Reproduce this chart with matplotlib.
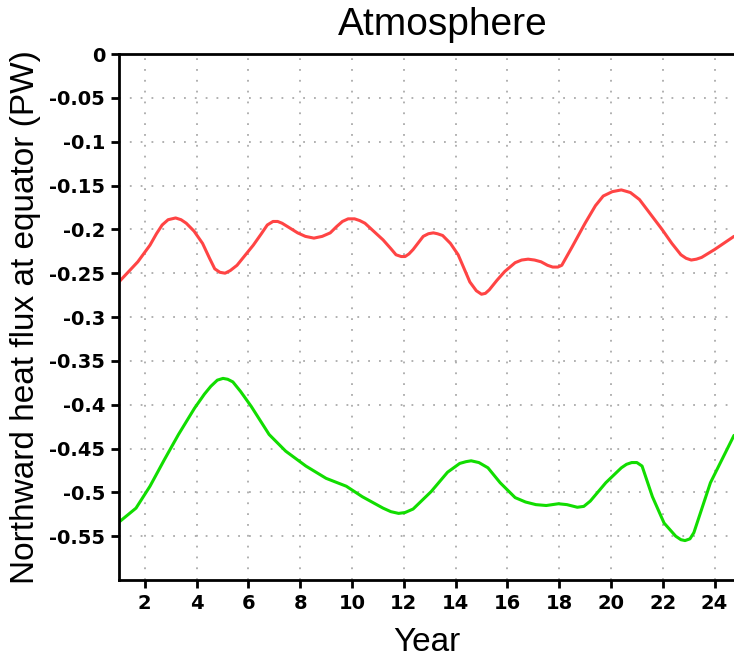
import matplotlib
matplotlib.use('Agg')
import matplotlib.pyplot as plt
import numpy as np

plt.rcParams['font.family'] = ['Liberation Sans', 'DejaVu Sans']

# values (year, PW)
red_x = [1.0, 1.73, 2.2, 2.45, 2.67, 2.9, 3.19, 3.4, 3.6, 3.9, 4.23, 4.5, 4.7, 4.9, 5.1, 5.3,
         5.56, 6.19, 6.5, 6.73, 6.95, 7.13, 7.3, 7.52, 7.9, 8.2, 8.53, 8.85, 9.16, 9.4, 9.63,
         9.85, 10.1, 10.3, 10.5, 11.2, 11.5, 11.7, 11.9, 12.05, 12.2, 12.36, 12.75, 12.95,
         13.14, 13.3, 13.5, 13.8, 14.1, 14.55, 14.8, 15.0, 15.15, 15.3, 15.6, 15.9, 16.3,
         16.55, 16.8, 17.05, 17.3, 17.55, 17.75, 17.95, 18.1, 18.5, 19.0, 19.4, 19.7, 20.05,
         20.4, 20.75, 21.1, 21.97, 22.35, 22.7, 22.9, 23.1, 23.3, 23.5, 24.0, 24.75]
red_y = [-0.26, -0.237, -0.218, -0.205, -0.195, -0.189, -0.187, -0.189, -0.193, -0.202,
         -0.216, -0.233, -0.245, -0.249, -0.25, -0.247, -0.241, -0.218, -0.205, -0.195,
         -0.191, -0.191, -0.193, -0.197, -0.204, -0.208, -0.21, -0.208, -0.204, -0.197,
         -0.191, -0.188, -0.188, -0.19, -0.193, -0.212, -0.222, -0.229, -0.231, -0.231,
         -0.228, -0.223, -0.208, -0.205, -0.204, -0.205, -0.207, -0.216, -0.229, -0.26,
         -0.27, -0.274, -0.273, -0.269, -0.258, -0.248, -0.238, -0.235, -0.234, -0.235,
         -0.237, -0.241, -0.243, -0.243, -0.241, -0.22, -0.193, -0.173, -0.162, -0.157,
         -0.155, -0.158, -0.166, -0.2, -0.216, -0.229, -0.233, -0.235, -0.234, -0.232,
         -0.223, -0.208]

green_x = [1.0, 1.66, 2.2, 2.75, 3.3, 3.92, 4.3, 4.55, 4.8, 5.02, 5.2, 5.4, 5.7, 6.11, 6.8,
           7.44, 8.22, 9.0, 9.78, 10.4, 11.2, 11.5, 11.8, 12.05, 12.36, 13.06, 13.69, 14.16,
           14.4, 14.6, 14.9, 15.25, 15.72, 16.3, 16.7, 17.1, 17.5, 17.97, 18.3, 18.7, 18.95,
           19.2, 19.8, 20.4, 20.6, 20.8, 21.0, 21.2, 21.6, 22.05, 22.5, 22.7, 22.86, 23.05,
           23.2, 23.84, 24.75]
green_y = [-0.534, -0.518, -0.493, -0.463, -0.434, -0.404, -0.388, -0.379, -0.372, -0.37,
           -0.371, -0.374, -0.385, -0.402, -0.434, -0.453, -0.47, -0.484, -0.493, -0.505,
           -0.518, -0.522, -0.524, -0.523, -0.519, -0.499, -0.477, -0.467, -0.465, -0.464,
           -0.466, -0.472, -0.489, -0.506, -0.511, -0.514, -0.515, -0.513, -0.514, -0.517,
           -0.516, -0.51, -0.489, -0.472, -0.468, -0.466, -0.466, -0.47, -0.505, -0.535,
           -0.55, -0.554, -0.555, -0.553, -0.546, -0.489, -0.435]

xticks = list(range(2, 25, 2))
yticks = [0, -0.05, -0.1, -0.15, -0.2, -0.25, -0.3, -0.35, -0.4, -0.45, -0.5, -0.55]
ytick_labels = ['0', '-0.05', '-0.1', '-0.15', '-0.2', '-0.25', '-0.3', '-0.35', '-0.4',
                '-0.45', '-0.5', '-0.55']

fig = plt.figure(figsize=(7.34, 6.58), dpi=100)
ax = fig.add_axes([0.162, 0.1185, 0.838, 0.7994])

ax.plot(red_x, red_y, color='#ff4444', lw=2.2, solid_capstyle='round', solid_joinstyle='round')
ax.plot(green_x, green_y, color='#11dd00', lw=2.2, solid_capstyle='round', solid_joinstyle='round')

ax.set_xlim(1, 24.75)
ax.set_ylim(-0.6, 0)
ax.set_xticks(xticks)
ax.set_yticks(yticks)
ax.set_yticklabels(ytick_labels)
for lab in ax.get_xticklabels() + ax.get_yticklabels():
    lab.set_fontweight('bold')
    lab.set_fontfamily('DejaVu Sans')
    lab.set_fontsize(14)

ax.grid(True, color='#aaaaaa', linestyle=(0, (1, 5)), lw=1.3)
ax.tick_params(direction='out', length=6, width=2, pad=4)

for s in ['left', 'bottom', 'top']:
    ax.spines[s].set_linewidth(2)
ax.spines['right'].set_visible(False)

ax.set_xlabel('Year', fontsize=24, labelpad=10)
ax.set_ylabel('Northward heat flux at equator (PW)', fontsize=24, labelpad=6)
fig.text(0.603, 0.962, 'Atmosphere', fontsize=28, ha='center', va='center')

fig.savefig('out.png', dpi=100)
